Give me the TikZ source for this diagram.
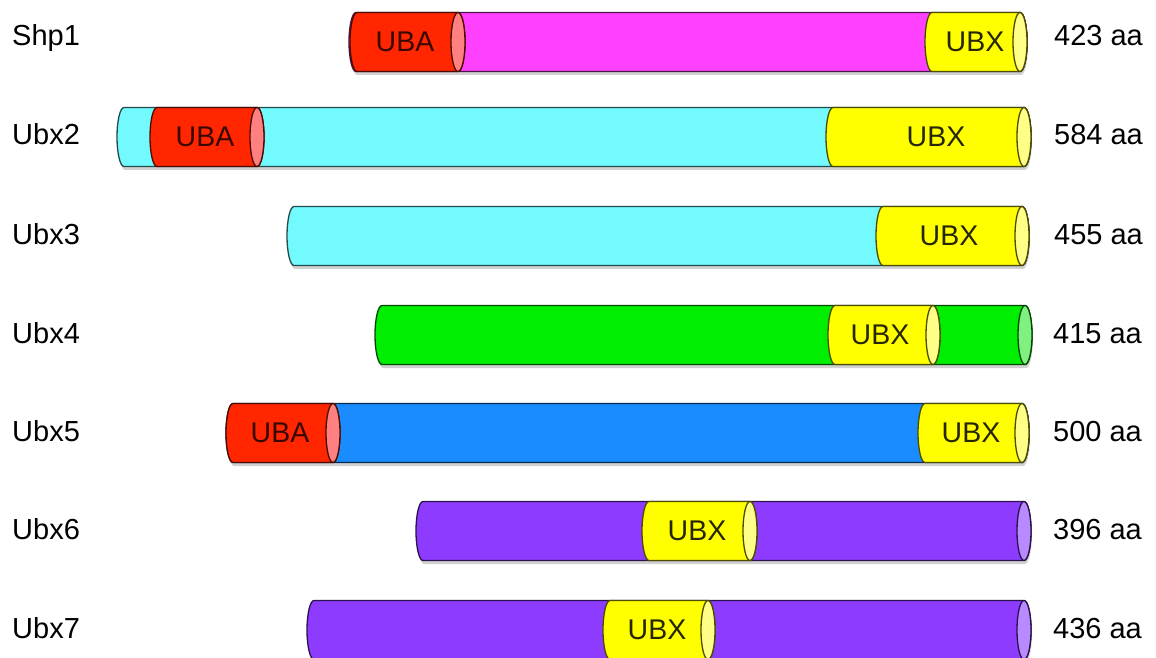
\documentclass[tikz,border=0pt]{standalone}
\usepackage{fontspec}
\setmainfont{Liberation Sans}
\definecolor{cMag}{HTML}{FF40FF}
\definecolor{cMagF}{HTML}{FF9FFF}
\definecolor{cCyan}{HTML}{73FAFF}
\definecolor{cCyanF}{HTML}{B9FCFF}
\definecolor{cRed}{HTML}{FF2600}
\definecolor{cRedF}{HTML}{FF8080}
\definecolor{cYel}{HTML}{FFFF00}
\definecolor{cYelF}{HTML}{FFFF88}
\definecolor{cGrn}{HTML}{00EE00}
\definecolor{cGrnF}{HTML}{80F080}
\definecolor{cBlue}{HTML}{1A8CFF}
\definecolor{cBlueF}{HTML}{8CC6FF}
\definecolor{cPur}{HTML}{8D3BFF}
\definecolor{cPurF}{HTML}{B98AFF}
\tikzset{
  cylline/.style={line width=1.3pt, line join=round},
  lab/.style={inner sep=0pt, font=\fontsize{29}{34}\selectfont},
  domtxt/.style={inner sep=0pt, font=\fontsize{28.5}{33}\selectfont},
  shade/.style={fill=black, opacity=0.18}
}
% #1 left x, #2 right face x, #3 centre y (px from top), #4 body colour, #5 face colour
\newcommand\cylseg[5]{%
  \pgfmathsetmacro\cyY{657-#3}%
  \filldraw[fill=#4, draw=#4!30!black, cylline] ({#1+7},{\cyY+29.5}) -- ({#2},{\cyY+29.5})
    arc[start angle=90,end angle=-90,x radius=7,y radius=29.5] -- ({#1+7},{\cyY-29.5})
    arc[start angle=270,end angle=90,x radius=7,y radius=29.5] -- cycle;
  \filldraw[fill=#5, draw=#4!30!black, cylline] ({#2},{\cyY}) ellipse[x radius=7,y radius=29.5];
}
\newcommand\cylshadow[3]{%
  \pgfmathsetmacro\cyY{657-#3}%
  \fill[shade] ({#1+8},{\cyY+26}) -- ({#2+1},{\cyY+26})
    arc[start angle=90,end angle=-90,x radius=7,y radius=29.5] -- ({#1+8},{\cyY-33})
    arc[start angle=270,end angle=90,x radius=7,y radius=29.5] -- cycle;
}
\begin{document}
\begin{tikzpicture}[x=1pt,y=1pt]
\useasboundingbox (0,0) rectangle (1156,657);
\fill[white] (0,0) rectangle (1156,657);

% shadows
\cylshadow{349}{1020}{42}
\cylshadow{117}{1024}{137}
\cylshadow{287}{1022}{236}
\cylshadow{375}{1025}{335}
\cylshadow{226}{1022}{433}
\cylshadow{416}{1024}{531}
\cylshadow{307}{1024}{630}

% Shp1
\cylseg{349}{1020}{42}{cMag}{cMagF}
\cylseg{350}{458}{42}{cRed}{cRedF}
\cylseg{925}{1020}{42}{cYel}{cYelF}
% Ubx2
\cylseg{117}{1024}{137}{cCyan}{cCyanF}
\cylseg{150}{257}{137}{cRed}{cRedF}
\cylseg{826}{1024}{137}{cYel}{cYelF}
% Ubx3
\cylseg{287}{1022}{236}{cCyan}{cCyanF}
\cylseg{876}{1022}{236}{cYel}{cYelF}
% Ubx4
\cylseg{375}{1025}{335}{cGrn}{cGrnF}
\cylseg{828}{933}{335}{cYel}{cYelF}
% Ubx5
\cylseg{226}{1022}{433}{cBlue}{cBlueF}
\cylseg{226}{333}{433}{cRed}{cRedF}
\cylseg{918}{1022}{433}{cYel}{cYelF}
% Ubx6
\cylseg{416}{1024}{531}{cPur}{cPurF}
\cylseg{642}{750}{531}{cYel}{cYelF}
% Ubx7
\cylseg{307}{1024}{630}{cPur}{cPurF}
\cylseg{603}{708}{630}{cYel}{cYelF}

% domain labels
\node[domtxt, text=cRed!22!black] (d1a) at (405,{657-42}) {UBA};
\node[domtxt, text=cYel!15!black] (d1x) at (975,{657-42}) {UBX};
\node[domtxt, text=cRed!22!black] (d2a) at (205,{657-137}) {UBA};
\node[domtxt, text=cYel!15!black] (d2x) at (936,{657-137}) {UBX};
\node[domtxt, text=cYel!15!black] (d3x) at (949,{657-236}) {UBX};
\node[domtxt, text=cYel!15!black] (d4x) at (880,{657-335}) {UBX};
\node[domtxt, text=cRed!22!black] (d5a) at (280,{657-433}) {UBA};
\node[domtxt, text=cYel!15!black] (d5x) at (971,{657-433}) {UBX};
\node[domtxt, text=cYel!15!black] (d6x) at (697,{657-531}) {UBX};
\node[domtxt, text=cYel!15!black] (d7x) at (657,{657-630}) {UBX};

% row names
\node[lab, anchor=base west] (n1) at (12,{657-46}) {Shp1};
\node[lab, anchor=base west] (n2) at (12,{657-145}) {Ubx2};
\node[lab, anchor=base west] (n3) at (12,{657-245}) {Ubx3};
\node[lab, anchor=base west] (n4) at (12,{657-343}) {Ubx4};
\node[lab, anchor=base west] (n5) at (12,{657-441}) {Ubx5};
\node[lab, anchor=base west] (n6) at (12,{657-539}) {Ubx6};
\node[lab, anchor=base west] (n7) at (12,{657-638}) {Ubx7};

% lengths
\node[lab, anchor=base west] (s1) at (1054,{657-46}) {423 aa};
\node[lab, anchor=base west] (s2) at (1054,{657-145}) {584 aa};
\node[lab, anchor=base west] (s3) at (1054,{657-245}) {455 aa};
\node[lab, anchor=base west] (s4) at (1053,{657-343}) {415 aa};
\node[lab, anchor=base west] (s5) at (1053,{657-441}) {500 aa};
\node[lab, anchor=base west] (s6) at (1053,{657-539}) {396 aa};
\node[lab, anchor=base west] (s7) at (1053,{657-638}) {436 aa};
\end{tikzpicture}
\end{document}
